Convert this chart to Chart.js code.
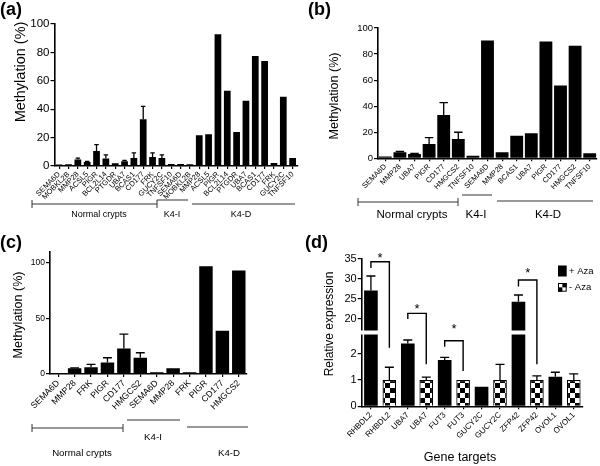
<!DOCTYPE html>
<html>
<head>
<meta charset="utf-8">
<title>Methylation and expression of gene targets</title>
<script src="https://cdn.jsdelivr.net/npm/chart.js@4.4.0/dist/chart.umd.min.js"></script>
<style>
  body { margin: 0; background: #fff; }
  #fig { position: relative; width: 600px; height: 466px; }
  #fig canvas { position: absolute; }
</style>
</head>
<body>
<div id="fig">
  <canvas id="chart-a" width="300" height="233" style="left:0;top:0"></canvas>
  <canvas id="chart-b" width="300" height="233" style="left:300px;top:0"></canvas>
  <canvas id="chart-c" width="300" height="233" style="left:0;top:233px"></canvas>
  <canvas id="chart-d" width="300" height="233" style="left:300px;top:233px"></canvas>
</div>
<script>
'use strict';

// (a) normal crypts (13), K4-I (2), K4-D (11)
let genesA = ['SEMA6D', 'MOBKL2B', 'MMP28', 'ACSL5', 'PIGR', 'BCL2L14', 'PTGDR', 'UBA7', 'BCAS1', 'CD177', 'FRK', 'GUCY2C', 'TNFSF10',
  'SEMA6D', 'MOBKL2B',
  'MMP28', 'ACSL5', 'PIGR', 'BCL2L14', 'PTGDR', 'UBA7', 'BCAS1', 'CD177', 'FRK', 'GUCY2C', 'TNFSF10'];
let methA = [1, 1.2, 4.5, 2.8, 10.6, 5.2, 1.9, 3.3, 5.6, 33, 6.4, 5.6, 1.4,
  1.4, 1.2,
  21.6, 22.4, 92.7, 53, 24, 46, 77.4, 74, 2.1, 48.7, 5.6];
let semA = [0, 0, 1, 0.5, 4.5, 2.6, 0, 0.7, 3.6, 9, 2.8, 2.2, 0,
  0, 0,
  0, 0, 0, 0, 0, 0, 0, 0, 0, 0, 0];

// (b)
let genesB = ['SEMA6D', 'MMP28', 'UBA7', 'PIGR', 'CD177', 'HMGCS2', 'TNFSF10',
  'SEMA6D',
  'MMP28', 'BCAS1', 'UBA7', 'PIGR', 'CD177', 'HMGCS2', 'TNFSF10'];
let methB = [1.3, 4.6, 3.3, 11, 33.3, 14.9, 2, 90.5, 4.6, 17.4, 19.2, 89.7, 55.9, 86.4, 3.8];
let semB = [0, 0.6, 0.4, 4.9, 9.5, 5.1, 0, 0, 0, 0, 0, 0, 0, 0, 0];

// (c)
let genesC = ['SEMA6D', 'MMP28', 'FRK', 'PIGR', 'CD177', 'HMGCS2',
  'SEMA6D', 'MMP28', 'FRK',
  'PIGR', 'CD177', 'HMGCS2'];
let methC = [0.9, 5.1, 6, 10.4, 23, 14.6, 1.5, 5.1, 1.5, 97, 38.8, 93.1];
let semC = [0, 0.4, 2.7, 4.2, 12.8, 4.5, 0, 0, 0, 0, 0, 0];

// (d)
let targets = ['RHBDL2', 'UBA7', 'FUT3', 'GUCY2C', 'ZFP42', 'OVOL1'];
let plusAza = [27.1, 2.4, 1.77, 0.75, 24.3, 1.13];
let plusAzaSem = [3.65, 0.13, 0.1, 0, 1.7, 0.17];
let minusAza = [1, 1, 1, 1, 1, 1];
let minusAzaSem = [0.49, 0.11, 0, 0.6, 0.16, 0.24];
let brokenTicks = [0, 1, 2, 20, 25, 30, 35];
let axisBreak = [2.72, 17.25];

const fontFamily = "'Liberation Sans', Arial, Helvetica, sans-serif";
Chart.defaults.font.family = fontFamily;
Chart.defaults.color = '#000';
Chart.defaults.animation = false;
Chart.defaults.plugins.legend.display = false;
Chart.defaults.plugins.tooltip.enabled = false;

// upper error bars only, like the original
let errorBarPlugin = {
  id: 'errorBars',
  afterDatasetsDraw(chart) {
    let ctx = chart.ctx;
    let ds = chart.data.datasets[0];
    let meta = chart.getDatasetMeta(0);
    let yScale = chart.scales.y;
    ctx.save();
    ctx.strokeStyle = '#000';
    ctx.lineWidth = 1.3;
    for (let i = 0; i < ds.data.length; i++) {
      if (!ds.sem[i]) continue;
      let bar = meta.data[i];
      let yTop = yScale.getPixelForValue(ds.data[i] + ds.sem[i]);
      let half = bar.width * 0.33;
      ctx.beginPath();
      ctx.moveTo(bar.x, bar.y);
      ctx.lineTo(bar.x, yTop);
      ctx.moveTo(bar.x - half, yTop);
      ctx.lineTo(bar.x + half, yTop);
      ctx.stroke();
    }
    ctx.restore();
  }
};

function panelDecor(d) {
  return {
    id: 'panelDecor',
    afterDraw(chart) {
      let ctx = chart.ctx;
      ctx.save();
      ctx.fillStyle = '#000';
      ctx.font = 'bold 18px ' + fontFamily;
      ctx.textAlign = 'left';
      ctx.textBaseline = 'top';
      ctx.fillText(d.letter, d.letterX, 1);

      ctx.save();
      ctx.translate(d.yTitle.x, d.yTitle.y);
      ctx.rotate(-Math.PI / 2);
      ctx.font = d.yTitle.size + 'px ' + fontFamily;
      ctx.textAlign = 'center';
      ctx.textBaseline = 'middle';
      ctx.fillText(d.yTitle.text, 0, 0);
      ctx.restore();

      if (d.xTitle) {
        ctx.font = d.xTitle.size + 'px ' + fontFamily;
        ctx.textAlign = 'center';
        ctx.textBaseline = 'middle';
        ctx.fillText(d.xTitle.text, d.xTitle.x, d.xTitle.y);
      }

      (d.groups || []).forEach(g => {
        ctx.strokeStyle = '#333';
        ctx.lineWidth = 1;
        ctx.beginPath();
        ctx.moveTo(g.x1, g.y);
        ctx.lineTo(g.x2, g.y);
        if (g.caps) {
          ctx.moveTo(g.x1, g.y - 4);
          ctx.lineTo(g.x1, g.y + 4);
          ctx.moveTo(g.x2, g.y - 4);
          ctx.lineTo(g.x2, g.y + 4);
        }
        ctx.stroke();
        ctx.font = d.groupSize + 'px ' + fontFamily;
        ctx.textAlign = 'center';
        ctx.textBaseline = 'middle';
        ctx.fillText(g.text, g.tx, g.ty);
      });
      ctx.restore();
    }
  };
}

function methylationChart(canvasId, labels, values, sem, look, decor) {
  return new Chart(document.getElementById(canvasId), {
    type: 'bar',
    data: {
      labels: labels,
      datasets: [{
        data: values,
        sem: sem,
        backgroundColor: '#000',
        borderWidth: 0,
        barPercentage: look.barPct,
        categoryPercentage: 1
      }]
    },
    options: {
      responsive: false,
      layout: { padding: { top: look.top, right: look.right, left: 0, bottom: 0 } },
      scales: {
        x: {
          grid: { display: true, drawOnChartArea: false, offset: false, color: '#000', lineWidth: 1.2, tickLength: 3 },
          border: { color: '#000', width: 1.6 },
          ticks: { autoSkip: false, minRotation: 45, maxRotation: 45, padding: 1, font: { size: look.xFont } },
          afterFit: (axis) => { axis.height = look.xHeight; }
        },
        y: {
          min: 0,
          max: look.yMax,
          grid: { display: true, drawOnChartArea: false, color: '#000', lineWidth: 1.2, tickLength: 4 },
          border: { color: '#000', width: 1.6 },
          ticks: { stepSize: look.yStep, padding: 1, font: { size: look.yFont } },
          afterBuildTicks: (axis) => { axis.ticks = axis.ticks.filter(t => t.value % look.yStep === 0); },
          afterFit: (axis) => { axis.width = look.yWidth; }
        }
      }
    },
    plugins: [errorBarPlugin, panelDecor(decor)]
  });
}

methylationChart('chart-a', genesA, methA, semA,
  { barPct: 0.72, top: 24, right: 0, xHeight: 67, yWidth: 54.5, yMax: 100, yStep: 20, xFont: 7.5, yFont: 11.5 },
  {
    letter: '(a)', letterX: 0,
    yTitle: { text: 'Methylation (%)', x: 21, y: 72, size: 14.5 },
    groupSize: 9,
    groups: [
      { text: 'Normal crypts', x1: 32, x2: 157, y: 204, caps: true, tx: 99, ty: 215 },
      { text: 'K4-I', x1: 157, x2: 188, y: 200, caps: false, tx: 172, ty: 215 },
      { text: 'K4-D', x1: 192, x2: 295, y: 204, caps: false, tx: 241, ty: 215 }
    ]
  });

methylationChart('chart-b', genesB, methB, semB,
  { barPct: 0.88, top: 28, right: 3, xHeight: 74.7, yWidth: 78, yMax: 100, yStep: 20, xFont: 7.5, yFont: 9.5 },
  {
    letter: '(b)', letterX: 8,
    yTitle: { text: 'Methylation (%)', x: 35, y: 96, size: 12.5 },
    groupSize: 11.5,
    groups: [
      { text: 'Normal crypts', x1: 58, x2: 158, y: 202, caps: true, tx: 112, ty: 215 },
      { text: 'K4-I', x1: 162, x2: 192, y: 195, caps: false, tx: 176, ty: 215 },
      { text: 'K4-D', x1: 197, x2: 293, y: 201, caps: false, tx: 248, ty: 215 }
    ]
  });

methylationChart('chart-c', genesC, methC, semC,
  { barPct: 0.82, top: 18.7, right: 53, xHeight: 92, yWidth: 50, yMax: 110, yStep: 50, xFont: 8.8, yFont: 8.5 },
  {
    letter: '(c)', letterX: 0,
    yTitle: { text: 'Methylation (%)', x: 19, y: 82, size: 12.5 },
    groupSize: 9.7,
    groups: [
      { text: 'Normal crypts', x1: 32, x2: 123, y: 195, caps: true, tx: 82, ty: 220 },
      { text: 'K4-I', x1: 127, x2: 180, y: 187, caps: false, tx: 153, ty: 204 },
      { text: 'K4-D', x1: 187, x2: 248, y: 194, caps: false, tx: 229, ty: 220 }
    ]
  });

// (d) y axis with a break between axisBreak[0] and axisBreak[1]
function brokenDecimal(v) {
  let lo = axisBreak[0];
  let hi = axisBreak[1];
  let top = brokenTicks[brokenTicks.length - 1];
  if (v <= lo) return v / lo * 0.484;
  if (v >= hi) return 0.518 + (v - hi) / (top - hi) * 0.482;
  return 0.484 + (v - lo) / (hi - lo) * 0.034;
}

class BrokenScale extends Chart.LinearScale {
  buildTicks() {
    return brokenTicks.map(v => ({ value: v }));
  }
  getPixelForValue(value) {
    return this.getPixelForDecimal(brokenDecimal(value));
  }
  getValueForPixel(pixel) {
    let d = this.getDecimalForPixel(pixel);
    let top = brokenTicks[brokenTicks.length - 1];
    if (d <= 0.484) return d / 0.484 * axisBreak[0];
    if (d >= 0.518) return axisBreak[1] + (d - 0.518) / 0.482 * (top - axisBreak[1]);
    return axisBreak[0] + (d - 0.484) / 0.034 * (axisBreak[1] - axisBreak[0]);
  }
}
BrokenScale.id = 'broken';
Chart.register(BrokenScale);

function checkerPattern(size) {
  let c = document.createElement('canvas');
  c.width = size * 2;
  c.height = size * 2;
  let g = c.getContext('2d');
  g.fillStyle = '#fff';
  g.fillRect(0, 0, size * 2, size * 2);
  g.fillStyle = '#000';
  g.fillRect(size, 0, size, size);
  g.fillRect(0, size, size, size);
  return g.createPattern(c, 'repeat');
}
let ctxD = document.getElementById('chart-d').getContext('2d');
let checker = checkerPattern(5);

let dLabels = [];
let dValues = [];
let dSem = [];
let dColors = [];
let dBorders = [];
for (let i = 0; i < targets.length; i++) {
  dLabels.push(targets[i], targets[i]);
  dValues.push(plusAza[i], minusAza[i]);
  dSem.push(plusAzaSem[i], minusAzaSem[i]);
  dColors.push('#000', checker);
  dBorders.push(0, 1.2);
}

let expressionDecor = {
  id: 'expressionDecor',
  sig: [
    { from: 0, to: 1, top: 34.3, left: 32.75, right: 2.23, star: 6.7 },
    { from: 2, to: 3, top: 21.4, left: 20, right: 1.6, star: 7.3 },
    { from: 4, to: 5, top: 2.5, left: 2.27, right: 1.35, star: 15 },
    { from: 8, to: 9, top: 29.75, left: 28.1, right: 1.6, star: 10 }
  ],
  afterDatasetsDraw(chart) {
    let ctx = chart.ctx;
    let y = chart.scales.y;
    let yHi = y.getPixelForValue(axisBreak[1]);
    let yLo = y.getPixelForValue(axisBreak[0]);
    ctx.save();
    ctx.fillStyle = '#fff';
    ctx.fillRect(y.right - 3, yHi + 0.5, chart.chartArea.right - y.right + 3, yLo - yHi - 1);
    ctx.restore();
  },
  afterDraw(chart) {
    let ctx = chart.ctx;
    let y = chart.scales.y;
    let meta = chart.getDatasetMeta(0);
    ctx.save();
    ctx.strokeStyle = '#000';
    ctx.fillStyle = '#000';
    ctx.lineWidth = 1.4;
    this.sig.forEach(s => {
      let x1 = meta.data[s.from].x;
      let x2 = meta.data[s.to].x;
      let yt = y.getPixelForValue(s.top);
      ctx.beginPath();
      ctx.moveTo(x1, y.getPixelForValue(s.left));
      ctx.lineTo(x1, yt);
      ctx.lineTo(x2, yt);
      ctx.lineTo(x2, y.getPixelForValue(s.right));
      ctx.stroke();
      ctx.font = '13px ' + fontFamily;
      ctx.textAlign = 'center';
      ctx.textBaseline = 'alphabetic';
      ctx.fillText('*', (x1 + x2) / 2, yt - s.star + 7);
    });

    // legend
    ctx.fillRect(258, 32.5, 8.7, 11);
    ctx.fillStyle = '#fff';
    ctx.fillRect(258, 50, 8.7, 8.7);
    ctx.fillStyle = '#000';
    ctx.fillRect(262.35, 50, 4.35, 4.35);
    ctx.fillRect(258, 54.35, 4.35, 4.35);
    ctx.lineWidth = 1;
    ctx.strokeRect(258.5, 50.5, 7.7, 7.7);
    ctx.font = '9.5px ' + fontFamily;
    ctx.textAlign = 'left';
    ctx.textBaseline = 'middle';
    ctx.fillText('+ Aza', 269, 38.5);
    ctx.fillText('- Aza', 269, 54.5);
    ctx.restore();
  }
};

new Chart(ctxD, {
  type: 'bar',
  data: {
    labels: dLabels,
    datasets: [{
      data: dValues,
      sem: dSem,
      backgroundColor: dColors,
      borderColor: '#000',
      borderWidth: dBorders,
      barPercentage: 0.74,
      categoryPercentage: 1
    }]
  },
  options: {
    responsive: false,
    layout: { padding: { top: 26, right: 17, left: 0, bottom: 0 } },
    scales: {
      x: {
        grid: { display: true, drawOnChartArea: false, offset: false, color: '#000', lineWidth: 1.2, tickLength: 3 },
        border: { color: '#000', width: 1.6 },
        ticks: { autoSkip: false, minRotation: 45, maxRotation: 45, padding: 1, font: { size: 8 } },
        afterFit: (axis) => { axis.height = 59.7; }
      },
      y: {
        type: 'broken',
        min: 0,
        max: 35,
        grid: { display: true, drawOnChartArea: false, color: '#000', lineWidth: 1.2, tickLength: 4 },
        border: { color: '#000', width: 1.6 },
        ticks: { padding: 1, font: { size: 11 }, callback: (v) => String(v) },
        afterFit: (axis) => { axis.width = 61.7; }
      }
    }
  },
  plugins: [errorBarPlugin, expressionDecor, panelDecor({
    letter: '(d)', letterX: 5,
    yTitle: { text: 'Relative expression', x: 30, y: 91, size: 12 },
    xTitle: { text: 'Gene targets', x: 160, y: 225, size: 12.5 },
    groups: []
  })]
});
</script>
</body>
</html>
